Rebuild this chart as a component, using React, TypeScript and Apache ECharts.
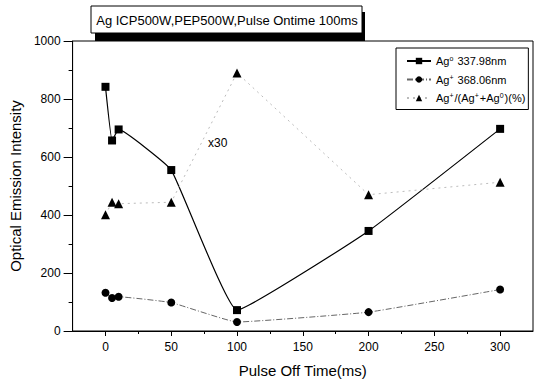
import React, { useEffect, useRef } from "react";
import * as echarts from "echarts";

const pulseOff = [0, 5, 10, 50, 100, 200, 300];
const ag0 = [842, 657, 695, 555, 72, 345, 697];
const agPlus = [132, 114, 118, 98, 31, 65, 143];
const ratio = [401, 444, 439, 444, 890, 470, 513];
const xMajorTicks = [0, 50, 100, 150, 200, 250, 300];
const xMinorTicks = [25, 75, 125, 175, 225, 275];
const titleText = "Ag ICP500W,PEP500W,Pulse Ontime 100ms";

const FONT = "Arial, 'Liberation Sans', sans-serif";

export default function App() {
  const ref = useRef<HTMLDivElement>(null);
  useEffect(() => {
    document.body.style.margin = "0";
    if (!ref.current) return;
    const chart = echarts.init(ref.current, null, { renderer: "svg" });
    const pairs = (ys: number[]) => pulseOff.map((x, i) => [x, ys[i]]);
    const legendNames: Record<string, string> = {
      ag0: "{b|Ag}{s|o}{b| 337.98nm}",
      agp: "{b|Ag}{s|+}{b| 368.06nm}",
      rat: "{b|Ag}{s|+}{b|/(Ag}{s|+}{b|+Ag}{s|0}{b|)(%)}",
    };
    chart.setOption({
      animation: false,
      backgroundColor: "#fff",
      textStyle: { fontFamily: FONT },
      grid: {
        left: 72,
        right: 5,
        top: 41,
        bottom: 51,
        show: true,
        borderColor: "#000",
        borderWidth: 1,
        containLabel: false,
      },
      legend: {
        orient: "vertical",
        left: 396,
        top: 48,
        width: 138,
        padding: [7, 3, 6, 10],
        itemGap: 7,
        itemWidth: 24,
        itemHeight: 8,
        borderColor: "#000",
        borderWidth: 1,
        backgroundColor: "#fff",
        data: ["ag0", "agp", "rat"],
        formatter: (n: string) => legendNames[n],
        textStyle: {
          fontFamily: FONT,
          color: "#000",
          rich: {
            b: { fontSize: 11, fontFamily: FONT, color: "#000" },
            s: { fontSize: 7, fontFamily: FONT, color: "#000", verticalAlign: "top", padding: [0, 1, 5, 0] },
          },
        },
      },
      xAxis: [
        {
          type: "value",
          min: -25,
          max: 325,
          name: "Pulse Off Time(ms)",
          nameLocation: "middle",
          nameGap: 32,
          nameTextStyle: { fontSize: 15, color: "#000", fontFamily: FONT },
          axisLine: { show: true, onZero: false, lineStyle: { color: "#000", width: 1 } },
          axisTick: { show: true, length: 5, customValues: xMajorTicks, lineStyle: { color: "#000" } },
          axisLabel: { customValues: xMajorTicks, fontSize: 12, color: "#000", margin: 10, fontFamily: FONT },
          splitLine: { show: false },
        },
        {
          type: "value",
          min: -25,
          max: 325,
          position: "bottom",
          axisLine: { show: false, onZero: false },
          axisTick: { show: true, length: 3, customValues: xMinorTicks, lineStyle: { color: "#000" } },
          axisLabel: { show: false },
          splitLine: { show: false },
        },
      ],
      yAxis: {
        type: "value",
        min: 0,
        max: 1000,
        interval: 200,
        name: "Optical Emission Intensity",
        nameLocation: "middle",
        nameGap: 42,
        nameTextStyle: { fontSize: 15, color: "#000", fontFamily: FONT },
        axisLine: { show: true, onZero: false, lineStyle: { color: "#000", width: 1 } },
        axisTick: { show: true, length: 9, lineStyle: { color: "#000" } },
        minorTick: { show: true, splitNumber: 2, length: 4, lineStyle: { color: "#000" } },
        axisLabel: { fontSize: 12, color: "#000", margin: 12, fontFamily: FONT, formatter: (v: number) => String(v) },
        splitLine: { show: false },
      },
      series: [
        {
          name: "ag0",
          type: "line",
          data: pairs(ag0),
          smooth: 0.1,
          symbol: "rect",
          symbolSize: 8,
          itemStyle: { color: "#000" },
          lineStyle: { color: "#000", width: 1.2 },
        },
        {
          name: "agp",
          type: "line",
          data: pairs(agPlus),
          smooth: 0.1,
          symbol: "circle",
          symbolSize: 8,
          itemStyle: { color: "#000" },
          lineStyle: { color: "#666", width: 1, type: [6, 2, 1, 2] },
        },
        {
          name: "rat",
          type: "line",
          data: pairs(ratio),
          symbol: "triangle",
          symbolSize: 9,
          itemStyle: { color: "#000" },
          lineStyle: { color: "#bbb", width: 1, type: [2, 4] },
        },
      ],
      graphic: [
        { type: "rect", shape: { x: 95, y: 12, width: 270, height: 29 }, style: { fill: "#000" }, z: 100 },
        { type: "rect", shape: { x: 91, y: 6, width: 271, height: 27 }, style: { fill: "#fff", stroke: "#000", lineWidth: 1 }, z: 101 },
        {
          type: "text",
          x: 227,
          y: 20,
          z: 102,
          style: { text: titleText, fontSize: 13, fontFamily: FONT, fill: "#000", align: "center", verticalAlign: "middle" },
        },
        {
          type: "text",
          x: 208,
          y: 143,
          z: 102,
          style: { text: "x30", fontSize: 12, fontFamily: FONT, fill: "#000", align: "left", verticalAlign: "middle" },
        },
      ],
    });
    return () => chart.dispose();
  }, []);
  return <div ref={ref} style={{ width: 538, height: 383 }} />;
}
